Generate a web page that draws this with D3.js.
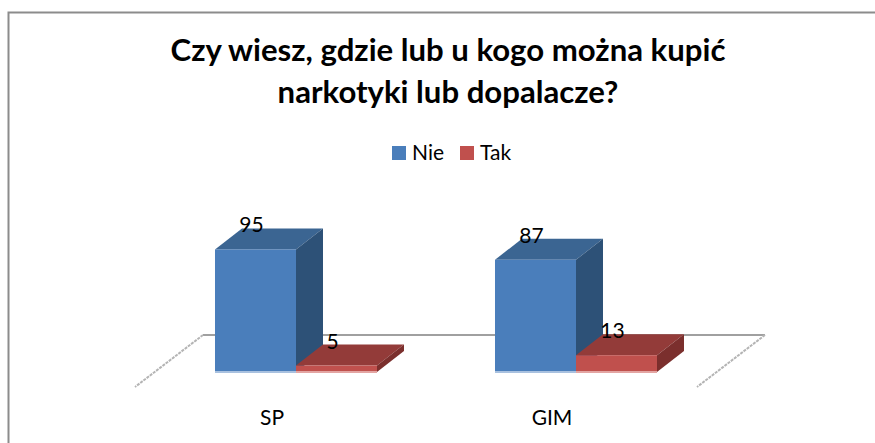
<!DOCTYPE html>
<html>
<head>
<meta charset="utf-8">
<script src="https://cdn.jsdelivr.net/npm/d3@7"></script>
<style>
  body { margin: 0; background: #fff; }
  svg { display: block; font-family: Lato, "Open Sans", sans-serif; }
</style>
</head>
<body>
<script>
// data
var categories = ["SP", "GIM"];
var seriesNames = ["Nie", "Tak"];
var nieValues = [95, 87];
var takValues = [5, 13];
var titleLines = ["Czy wiesz, gdzie lub u kogo można kupić", "narkotyki lub dopalacze?"];

var width = 875, height = 443;
var frontFill = ["#4a7ebb", "#c0504d"];
var topFill = ["#3b6592", "#933b39"];
var sideFill = ["#2d5177", "#7b2f2d"];
var edgeFill = ["#a9c1df", "#e3a5a3"];
var labelSize = 21;

// 3d offsets
var dx = 27, dy = -21;
var floorDx = 68, floorDy = -52;

var svg = d3.select("body").append("svg")
    .attr("width", width)
    .attr("height", height);

// outer frame (only top and left are visible)
svg.append("path")
    .attr("d", "M8.5,443 L8.5,12.5 L875,12.5")
    .attr("fill", "none")
    .attr("stroke", "#8c8c8c")
    .attr("stroke-width", 2);

var x0 = d3.scaleBand()
    .domain(categories)
    .range([156, 716])
    .paddingInner(0.4214)
    .paddingOuter(0.2107);

var x1 = d3.scaleBand()
    .domain(seriesNames)
    .range([0, x0.bandwidth()]);

var y = d3.scaleLinear()
    .domain([0, 100])
    .range([372, 243]);

var base = y(0);

// floor: back line and side edges
var backY = 335;
var leftBack = 203, rightBack = 765;
var floorG = svg.append("g");
floorG.append("line")
    .attr("x1", leftBack).attr("y1", backY)
    .attr("x2", rightBack).attr("y2", backY)
    .attr("stroke", "#a0a0a0").attr("stroke-width", 2);
floorG.append("line")
    .attr("x1", leftBack).attr("y1", backY)
    .attr("x2", leftBack - floorDx).attr("y2", backY - floorDy)
    .attr("stroke", "#b4b4b4").attr("stroke-width", 2)
    .attr("stroke-dasharray", "3,1");
floorG.append("line")
    .attr("x1", rightBack).attr("y1", backY)
    .attr("x2", rightBack - floorDx).attr("y2", backY - floorDy)
    .attr("stroke", "#b4b4b4").attr("stroke-width", 2)
    .attr("stroke-dasharray", "3,1");

function pts(a) { return a.map(function(p) { return p.join(","); }).join(" "); }

var rows = categories.map(function(c, i) {
  return { cat: c, values: [nieValues[i], takValues[i]] };
});

var groups = svg.selectAll("g.cat")
    .data(rows)
    .enter()
    .append("g")
    .attr("class", "cat");

groups.each(function(row) {
  var g = d3.select(this);
  row.values.forEach(function(v, s) {
    var xl = x0(row.cat) + x1(seriesNames[s]);
    var xr = xl + x1.bandwidth();
    var yt = y(v);
    // top face
    g.append("polygon")
        .attr("points", pts([[xl, yt], [xl + dx, yt + dy], [xr + dx, yt + dy], [xr, yt]]))
        .attr("fill", topFill[s]);
    // side face
    g.append("polygon")
        .attr("points", pts([[xr, yt], [xr + dx, yt + dy], [xr + dx, base + dy], [xr, base]]))
        .attr("fill", sideFill[s]);
    // front face
    g.append("rect")
        .attr("x", xl).attr("y", yt)
        .attr("width", xr - xl).attr("height", base - yt)
        .attr("fill", frontFill[s]);
    g.append("rect")
        .attr("x", xl).attr("y", base - 1)
        .attr("width", xr - xl).attr("height", 2)
        .attr("fill", edgeFill[s]);
    // value label
    g.append("text")
        .attr("x", (xl + xr) / 2 - 4)
        .attr("y", yt - 17)
        .attr("text-anchor", "middle")
        .attr("font-size", labelSize)
        .attr("fill", "#000")
        .text(v);
  });
  // category label
  g.append("text")
      .attr("x", x0(row.cat) + x0.bandwidth() / 2 - 24)
      .attr("y", 425)
      .attr("text-anchor", "middle")
      .attr("font-size", labelSize)
      .attr("fill", "#000")
      .text(row.cat);
});

// title
var title = svg.append("g");
var tBase = [61, 103];
var tTarget = 555;
titleLines.forEach(function(t, i) {
  title.append("text")
      .attr("x", 448)
      .attr("y", tBase[i])
      .attr("text-anchor", "middle")
      .attr("font-weight", "bold")
      .attr("font-size", 28)
      .attr("fill", "#000")
      .text(t);
});
// fit title size to the first line's width
var w0 = title.select("text").node().getComputedTextLength();
title.selectAll("text").attr("font-size", 28 * tTarget / w0);

// legend
var legendX = [392, 460];
var legend = svg.selectAll("g.leg")
    .data(seriesNames)
    .enter()
    .append("g")
    .attr("class", "leg")
    .attr("transform", function(d, i) { return "translate(" + legendX[i] + ",146)"; });
legend.append("rect")
    .attr("width", 14).attr("height", 14)
    .attr("fill", function(d, i) { return frontFill[i]; });
legend.append("text")
    .attr("x", 20).attr("y", 14)
    .attr("font-size", labelSize)
    .attr("fill", "#000")
    .text(function(d) { return d; });
</script>
</body>
</html>
